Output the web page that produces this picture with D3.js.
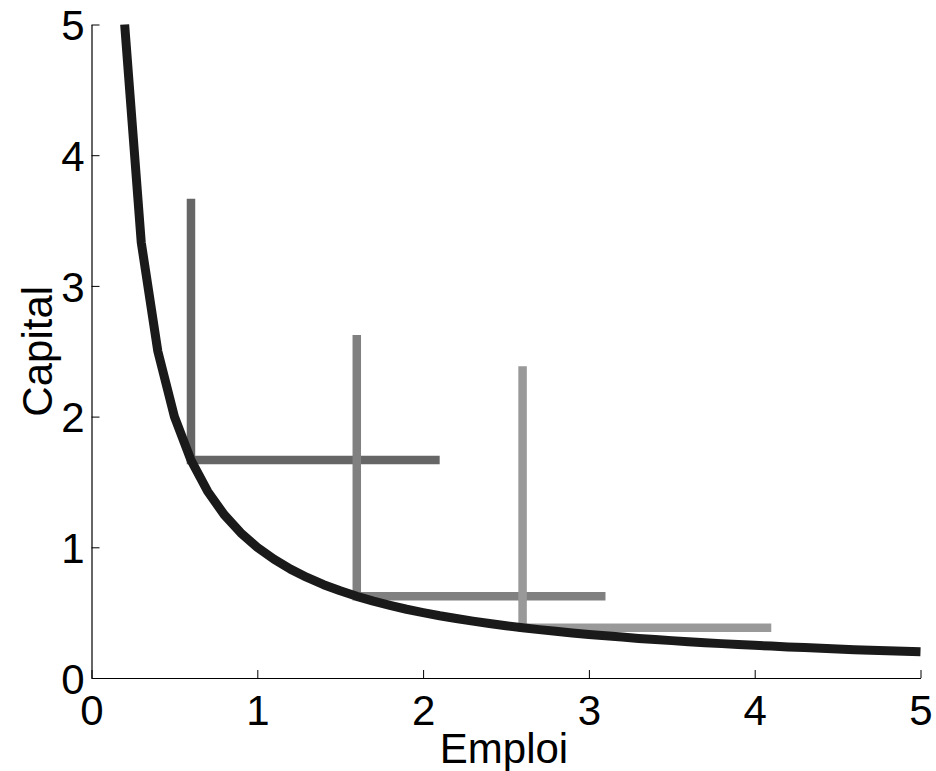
<!DOCTYPE html>
<html>
<head>
<meta charset="utf-8">
<script src="https://cdn.jsdelivr.net/npm/d3@7"></script>
<style>
  html, body { margin: 0; padding: 0; background: #fff; }
  svg { display: block; font-family: "Liberation Sans", Arial, Helvetica, sans-serif; }
</style>
</head>
<body>
<svg id="chart" width="936" height="771"></svg>
<script>
// ---- data ----
const curveX = [0.2,0.3,0.4,0.5,0.6,0.7,0.8,0.9,1.0,1.1,1.2,1.3,1.4,1.5,1.6,1.7,1.8,1.9,2.0,2.1,2.2,2.3,2.4,2.5,2.6,2.7,2.8,2.9,3.0,3.1,3.2,3.3,3.4,3.5,3.6,3.7,3.8,3.9,4.0,4.1,4.2,4.3,4.4,4.5,4.6,4.7,4.8,4.9,5.0];
const curveY = [5,3.333,2.5,2,1.667,1.429,1.25,1.111,1,0.909,0.833,0.769,0.714,0.667,0.625,0.588,0.556,0.526,0.5,0.476,0.455,0.435,0.417,0.4,0.385,0.37,0.357,0.345,0.333,0.323,0.313,0.303,0.294,0.286,0.278,0.27,0.263,0.256,0.25,0.244,0.238,0.233,0.227,0.222,0.217,0.213,0.208,0.204,0.2];

// L-shaped isoquants: corner (x, y), top of vertical arm, end of horizontal arm
const isoCornerX = [0.6, 1.6, 2.6];
const isoCornerY = [1.667, 0.625, 0.385];
const isoTopY    = [3.667, 2.625, 2.385];
const isoEndX    = [2.1, 3.1, 4.1];
const isoColors  = ["#666666", "#808080", "#999999"];

const xTicks = [0, 1, 2, 3, 4, 5];
const yTicks = [0, 1, 2, 3, 4, 5];
const xLabel = "Emploi";
const yLabel = "Capital";

// ---- layout ----
const svg = d3.select("#chart");
const mLeft = 91.5, mRight = 920.5, mTop = 24.5, mBottom = 678;
const x = d3.scaleLinear().domain([0, 5]).range([mLeft, mRight]);
const y = d3.scaleLinear().domain([0, 5]).range([mBottom, mTop]);

// isoquants
const line = d3.line().x(d => x(d[0])).y(d => y(d[1]));
isoCornerX.forEach((cx, i) => {
  const pts = [[cx, isoTopY[i]], [cx, isoCornerY[i]], [isoEndX[i], isoCornerY[i]]];
  svg.append("path")
    .attr("d", line(pts))
    .attr("fill", "none")
    .attr("stroke", isoColors[i])
    .attr("stroke-width", 8.5)
    .attr("stroke-linejoin", "miter")
    .attr("stroke-linecap", "butt");
});

// curve
svg.append("path")
  .attr("d", line(curveX.map((v, i) => [v, curveY[i]])))
  .attr("fill", "none")
  .attr("stroke", "#1a1a1a")
  .attr("stroke-width", 9)
  .attr("stroke-linejoin", "round")
  .attr("stroke-linecap", "butt");

// axes
const xAxis = d3.axisBottom(x).tickValues(xTicks).tickFormat(d3.format("d"))
  .tickSizeInner(-8).tickSizeOuter(0).tickPadding(17);
const yAxis = d3.axisLeft(y).tickValues(yTicks).tickFormat(d3.format("d"))
  .tickSizeInner(-8).tickSizeOuter(0).tickPadding(8);

const gx = svg.append("g").attr("transform", `translate(0,${mBottom})`).call(xAxis);
const gy = svg.append("g").attr("transform", `translate(${mLeft},0)`).call(yAxis);

[gx, gy].forEach(g => {
  g.select(".domain").attr("stroke", "#000").attr("stroke-width", 1.2);
  g.selectAll(".tick line").attr("stroke", "#000").attr("stroke-width", 1);
  g.selectAll(".tick text").attr("font-size", 42).attr("fill", "#000")
    .attr("font-family", "'Liberation Sans', Arial, sans-serif");
});
gx.selectAll(".tick text").attr("dy", "0.71em").attr("y", 17);
gy.selectAll(".tick text").attr("dy", "0.36em").attr("x", -7);

// axis labels
svg.append("text")
  .attr("x", (mLeft + mRight) / 2 - 2)
  .attr("y", 763)
  .attr("text-anchor", "middle")
  .attr("font-size", 42)
  .attr("fill", "#000")
  .text(xLabel);

svg.append("text")
  .attr("transform", `translate(52,${(mTop + mBottom) / 2}) rotate(-90)`)
  .attr("text-anchor", "middle")
  .attr("font-size", 42)
  .attr("fill", "#000")
  .text(yLabel);
</script>
</body>
</html>
